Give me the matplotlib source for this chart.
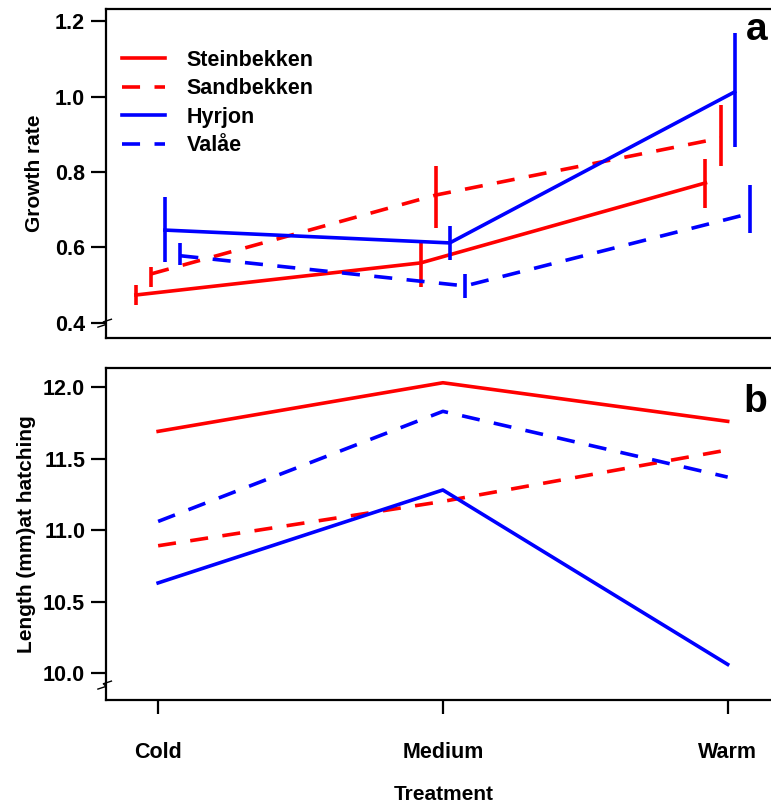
import matplotlib.pyplot as plt
import numpy as np

plt.rcParams['font.family'] = ['Liberation Sans', 'DejaVu Sans']
plt.rcParams['font.weight'] = 'bold'
plt.rcParams['axes.labelweight'] = 'bold'

treatments = ['Cold', 'Medium', 'Warm']
populations = ['Steinbekken', 'Sandbekken', 'Hyrjon', 'Valåe']
colors = ['#ff0000', '#ff0000', '#0000ff', '#0000ff']
styles = ['solid', 'dashed', 'solid', 'dashed']

# panel a: growth rate with error bar ends (low, high)
growth = [[0.474, 0.559, 0.771],
          [0.530, 0.739, 0.890],
          [0.646, 0.612, 1.012],
          [0.578, 0.498, 0.690]]
growth_lo = [[0.448, 0.495, 0.705],
             [0.495, 0.652, 0.816],
             [0.562, 0.567, 0.866],
             [0.554, 0.466, 0.638]]
growth_hi = [[0.500, 0.612, 0.834],
             [0.548, 0.816, 0.977],
             [0.734, 0.657, 1.168],
             [0.612, 0.530, 0.766]]

# panel b: length at hatching
length = [[11.69, 12.03, 11.76],
          [10.89, 11.20, 11.56],
          [10.63, 11.28, 10.06],
          [11.06, 11.83, 11.37]]

offsets = [-0.078, -0.024, 0.024, 0.078]

fig = plt.figure(figsize=(7.71, 8.09), dpi=100)
ax1 = fig.add_axes([0.1375, 0.5822, 0.875, 0.4067])
ax2 = fig.add_axes([0.1375, 0.1347, 0.875, 0.4104])

x = np.arange(len(treatments))
lw = 2.6
dash = (0, (5.0, 4.0))

for i, name in enumerate(populations):
    ls = dash if styles[i] == 'dashed' else '-'
    xs = x + offsets[i]
    ax1.plot(xs, growth[i], color=colors[i], lw=lw, linestyle=ls, label=name)
    ax1.vlines(xs, growth_lo[i], growth_hi[i], color=colors[i], lw=lw)
    ax2.plot(x, length[i], color=colors[i], lw=lw, linestyle=ls)

ax1.set_ylim(0.36, 1.232)
ax1.set_yticks([0.4, 0.6, 0.8, 1.0, 1.2])
ax1.set_yticklabels(['0.4', '0.6', '0.8', '1.0', '1.2'])
ax2.set_ylim(9.811, 12.133)
ax2.set_yticks([10.0, 10.5, 11.0, 11.5, 12.0])
ax2.set_yticklabels(['10.0', '10.5', '11.0', '11.5', '12.0'])

for ax in (ax1, ax2):
    ax.set_xlim(-0.183, 2.186)
    for s in ax.spines.values():
        s.set_linewidth(1.6)
    ax.tick_params(axis='y', length=11, width=1.6, labelsize=15.5, pad=4)
    ax.tick_params(axis='x', length=10, width=1.6, labelsize=15.5, pad=20)
    # axis break mark at the bottom of the y axis
    y0 = 0.045
    ax.plot([-0.012, 0.0, -0.004, 0.008], [y0 - 0.012, y0 - 0.004, y0 + 0.004, y0 + 0.012],
            transform=ax.transAxes, color='black', lw=1.0, clip_on=False)

ax1.set_xticks([])
ax2.set_xticks(x)
ax2.set_xticklabels(treatments)

ax1.set_ylabel('Growth rate', fontsize=15, fontweight='bold', labelpad=8)
ax2.set_ylabel('Length (mm)at hatching', fontsize=15, fontweight='bold', labelpad=5)
ax2.set_xlabel('Treatment', fontsize=15, fontweight='bold', labelpad=16)

ax1.text(0.980, 0.906, 'a', transform=ax1.transAxes, fontsize=28, fontweight='bold',
         ha='right', va='baseline')
ax2.text(0.980, 0.867, 'b', transform=ax2.transAxes, fontsize=28, fontweight='bold',
         ha='right', va='baseline')

ax1.legend(loc='upper left', bbox_to_anchor=(0.0, 0.925), frameon=False,
           prop={'size': 15.5, 'weight': 'bold'},
           handlelength=2.0, handletextpad=1.0, labelspacing=0.35, borderaxespad=0.35)

fig.savefig('out.png', dpi=100)
